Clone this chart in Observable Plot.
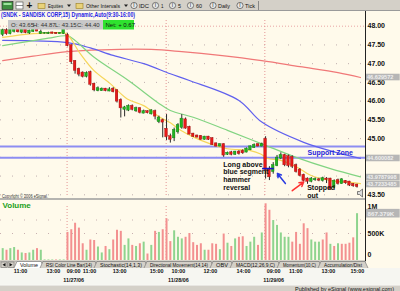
<!DOCTYPE html>
<html><head><meta charset="utf-8">
<script src="https://cdn.jsdelivr.net/npm/d3@7"></script>
<script src="https://cdn.jsdelivr.net/npm/@observablehq/plot@0.6"></script>
<style>
html,body{margin:0;padding:0;background:#fffaeb;}
#wrap{position:relative;width:400px;height:291px;overflow:hidden;background:#fffaeb;font-family:"Liberation Sans",Arial,sans-serif;}
</style></head><body><div id="wrap"></div>
<script>
// ---------- DATA ----------
// 15-minute bars: 11/24 (17 bars), 11/27 (26), 11/28 (26), 11/29 (25)
const barOpen = [
47.78,47.88,47.80,47.86,47.95,47.84,47.90,47.82,47.86,47.95,47.80,47.81,47.80,47.82,47.81,47.80,47.80,
47.75,47.48,47.06,46.85,46.75,46.66,46.76,46.45,46.28,46.28,46.32,46.27,46.32,46.28,46.02,45.78,45.76,45.86,45.74,45.80,45.68,45.72,45.66,45.72,45.45,45.48,
45.25,45.05,45.02,45.18,45.30,45.50,45.30,45.12,45.07,45.06,44.98,45.04,45.00,44.86,44.80,44.84,44.58,44.62,44.58,44.64,44.66,44.64,44.70,44.76,44.84,44.80,
44.98,44.16,44.12,44.28,44.48,44.55,44.52,44.50,44.28,44.16,44.02,43.92,43.86,43.90,43.90,43.88,43.92,43.92,43.70,43.88,43.80,43.86,43.84,43.78,43.76];
const barHigh = [
47.92,47.93,47.95,47.98,47.98,47.93,47.93,47.90,47.96,48.02,47.90,47.83,47.84,47.84,47.83,47.83,47.99,
47.80,47.50,47.08,46.88,46.78,46.78,46.80,46.48,46.38,46.35,46.34,46.36,46.36,46.30,46.06,45.86,45.90,45.90,45.84,45.82,45.76,45.74,45.77,45.76,45.60,45.52,
45.64,45.12,45.28,45.40,45.64,45.55,45.33,45.14,45.09,45.08,45.06,45.06,45.02,44.88,44.86,44.86,44.64,44.66,44.66,44.68,44.70,44.75,44.80,44.86,44.86,44.88,
45.05,44.25,44.36,44.55,44.62,44.58,44.56,44.54,44.32,44.20,44.05,43.95,43.96,43.95,43.94,43.97,43.96,43.94,43.90,43.92,43.93,43.88,43.86,43.80,43.78];
const barLow = [
47.72,47.76,47.77,47.82,47.82,47.80,47.80,47.78,47.83,47.85,47.78,47.79,47.78,47.79,47.78,47.79,47.78,
47.45,46.98,46.72,46.65,46.62,46.62,46.40,46.25,46.25,46.26,46.25,46.25,46.22,45.95,45.55,45.58,45.72,45.74,45.70,45.66,45.66,45.66,45.63,45.50,45.40,45.02,
44.95,44.88,44.92,45.12,45.25,45.25,45.10,45.03,45.02,44.96,44.96,44.95,44.82,44.78,44.78,44.50,44.55,44.54,44.55,44.56,44.58,44.62,44.68,44.74,44.78,44.78,
43.92,43.88,44.05,44.25,44.44,44.25,44.22,44.20,44.08,43.98,43.84,43.78,43.82,43.86,43.85,43.84,43.80,43.62,43.66,43.76,43.78,43.78,43.72,43.70,43.68];
const barClose = [
47.88,47.80,47.90,47.95,47.85,47.90,47.83,47.87,47.92,47.87,47.84,47.81,47.81,47.81,47.80,47.81,47.95,
47.48,47.05,46.82,46.72,46.66,46.74,46.45,46.30,46.33,46.32,46.28,46.30,46.25,46.00,45.82,45.82,45.86,45.78,45.80,45.70,45.72,45.69,45.74,45.60,45.55,45.44,
45.05,44.98,45.22,45.35,45.52,45.28,45.12,45.06,45.04,44.98,45.04,44.98,44.84,44.80,44.84,44.56,44.61,44.58,44.64,44.60,44.62,44.72,44.78,44.82,44.80,44.84,
44.17,43.98,44.28,44.48,44.55,44.30,44.28,44.26,44.12,44.02,43.88,43.86,43.92,43.91,43.89,43.93,43.91,43.66,43.86,43.80,43.90,43.82,43.76,43.74,43.72];
// volume in millions of shares
const barVolume = [
0.22,0.19,0.22,0.24,0.19,0.14,0.13,0.14,0.19,0.22,0.19,0.01,0.01,0.01,0.01,0.01,0.01,
0.52,0.57,0.69,0.60,0.31,0.19,0.38,0.37,0.25,0.14,0.26,0.20,0.38,0.56,0.54,0.28,0.40,0.28,0.26,0.31,0.34,0.12,0.28,0.54,0.52,0.57,
0.77,0.35,0.55,0.43,0.40,0.43,0.50,0.33,0.28,0.31,0.19,0.19,0.31,0.30,0.20,0.49,0.32,0.26,0.40,0.43,0.44,0.26,0.34,0.43,0.28,0.51,
1.05,0.93,0.74,0.65,0.51,0.43,0.43,0.34,0.52,0.30,0.68,0.59,0.38,0.34,0.34,0.38,0.51,0.30,0.26,0.31,0.30,0.30,0.32,0.42,0.867];
// volume bar colour: 1 = green (up), 0 = red (down)
const volumeUp = [
1,0,1,1,0,1,0,1,1,0,1,1,1,1,0,1,1,
0,0,0,0,0,1,0,0,1,1,0,1,0,0,0,1,1,0,1,0,1,0,1,0,1,0,
0,0,1,1,1,0,0,0,0,0,1,0,0,0,1,0,1,0,1,0,0,1,1,1,0,1,
0,0,1,1,1,1,1,0,0,0,0,0,1,1,1,0,0,1,0,1,0,0,0,0,1];

// moving averages, read as [bar, price] points
const maYellow = [[0,47.70],[8,47.80],[16,47.82],[17,47.78],[20.4,47.26],[23.9,46.82],[28.3,46.46],[32.7,46.06],[37,45.88],[41.4,45.56],[44,45.42],[46.7,45.22],[50.1,45.04],[54.5,44.86],[58.9,44.73],[65,44.68],[67.7,44.59],[69.5,44.47],[73,44.42],[77.4,44.23],[80.8,44.02],[86,43.88],[91.3,43.83],[93.9,43.80]];
const maGreen  = [[0,47.48],[6,47.58],[12,47.68],[17,47.74],[19,47.62],[24,47.17],[33,46.55],[41,45.94],[44,45.75],[50,45.57],[59,45.22],[68,44.86],[77,44.50],[86,44.20],[93.9,43.98]];
const maBlue   = [[0,47.62],[17,47.56],[23,47.42],[29,47.22],[37,47.00],[44,46.73],[49,46.55],[62,46.02],[68,45.44],[79,44.90],[88,44.62],[93.9,44.47]];
const maRed    = [[0,47.08],[8,47.20],[17,47.32],[26,47.37],[39,47.38],[47,47.32],[57,47.22],[68,47.08],[78,46.92],[88,46.76],[93.9,46.63]];

// visible price-axis labels (44.50 and 44.00 are hidden behind value boxes in the reference)
const priceTicks = [48,47.5,47,46.5,46,45.5,45,43.5];
const priceGrid = [47.5,47,46.5,46,45.5,45,44.5,44,43.5];
const valueBoxPrices = [46.63,44.47,43.96,43.775];
const valueBoxLabels = ["46.629572","44.600082","43.9787998","43.7233485"];
const supportLevels = [44.79,44.49];
const daySeparators = [16.9,42.9,68.8];

const timeTickPos = [4.67,13.3,18.6,22.8,30.7,40.4,46.1,54.5,63.2,71.1,76.9,85.5,93.1];
const timeTickLabels = ["11:00","13:00","09:00","11:00","13:00","15:00","10:00","12:00","14:00","09:00","11:00","13:00","15:00"];
const dateTickPos = [18.6,46.1,71.1];
const dateTickLabels = ["11/27/06","11/28/06","11/29/06"];

const volTickVals = [1,0.5,0.11];
const volTickLabels = ["1M","500K","0"];
const volGrid = [0.75,0.5];
const lastVolLabel = "867.379K";

const noteLines = ["Long above","blue segment","hammer","reversal"];
const noteY = [44.30,44.11,43.91,43.70];
const noteX = 57.9;
const stopLines = ["Stopped","out"];
const stopY = [43.69,43.48];
const stopX = 79.9;
const zoneLabel = "Support Zone";
const hammerSegment = {x1:68.2,x2:71.3,y:44.20};
const blueArrow = {x1:74.2,y1:43.80,x2:72.1,y2:44.07};
const redArrow = {x1:76.0,y1:43.61,x2:79.0,y2:43.84};

// ---------- BUILD ----------
const candles = barOpen.map((o,i)=>({i,o,h:barHigh[i],l:barLow[i],c:barClose[i]}));
const vols = barVolume.map((v,i)=>({i,v,up:volumeUp[i]===1}));
const XD = [-0.577,95.22];
const FONT = "Liberation Sans, Arial, sans-serif";
const wrap = document.getElementById("wrap");

const back = `<svg xmlns="http://www.w3.org/2000/svg" width="400" height="291" style="position:absolute;left:0;top:0">
<rect x="0" y="268" width="400" height="17" fill="#f6f6f1"/></svg>`;
wrap.insertAdjacentHTML("beforeend", back);

const price = Plot.plot({
  width:400, height:188, marginLeft:0, marginRight:35, marginTop:9, marginBottom:2,
  x:{domain:XD, axis:null}, y:{domain:[43.428,48.152], axis:null},
  style:{background:"transparent", overflow:"visible", fontFamily:FONT},
  marks:[
    Plot.ruleY(priceGrid,{stroke:"#bfaeae",strokeDasharray:"1,11"}),
    Plot.ruleY([48],{stroke:"#e8a4a4",strokeDasharray:"1,2"}),
    Plot.ruleX(daySeparators,{stroke:"#e49494",strokeDasharray:"1,2"}),
    Plot.ruleY(supportLevels,{stroke:"#8d8df2",strokeWidth:2}),
    Plot.line(maRed,{x:d=>d[0],y:d=>d[1],stroke:"#f07878",strokeWidth:1.2,curve:"catmull-rom"}),
    Plot.line(maBlue,{x:d=>d[0],y:d=>d[1],stroke:"#6060ee",strokeWidth:1.2,curve:"catmull-rom"}),
    Plot.line(maGreen,{x:d=>d[0],y:d=>d[1],stroke:"#82d482",strokeWidth:1.2,curve:"catmull-rom"}),
    Plot.line(maYellow,{x:d=>d[0],y:d=>d[1],stroke:"#f6d65a",strokeWidth:1.2,curve:"catmull-rom"}),
    Plot.ruleX(candles,{x:"i",y1:"l",y2:"h",stroke:"#2a2a2a",strokeWidth:1}),
    Plot.rect(candles.filter(d=>d.c>=d.o),{x1:d=>d.i-0.34,x2:d=>d.i+0.34,y1:"o",y2:"c",fill:"#22b522",stroke:"#117711",strokeWidth:0.4,insetTop:-0.5,insetBottom:-0.5}),
    Plot.rect(candles.filter(d=>d.c<d.o),{x1:d=>d.i-0.34,x2:d=>d.i+0.34,y1:"o",y2:"c",fill:"#e81818",stroke:"#991111",strokeWidth:0.4,insetTop:-0.5,insetBottom:-0.5}),
    Plot.ruleY([hammerSegment],{x1:"x1",x2:"x2",y:"y",stroke:"#1515c8",strokeWidth:1.6}),
    Plot.arrow([blueArrow],{x1:"x1",y1:"y1",x2:"x2",y2:"y2",stroke:"#2a3ae0",strokeWidth:1.5,headLength:6}),
    Plot.arrow([redArrow],{x1:"x1",y1:"y1",x2:"x2",y2:"y2",stroke:"#ff3030",strokeWidth:1.5,headLength:6}),
    Plot.text(noteLines,{x:()=>noteX,y:(d,i)=>noteY[i],text:d=>d,textAnchor:"start",lineAnchor:"middle",fontSize:7,fontWeight:"bold",fill:"#111"}),
    Plot.text(stopLines,{x:()=>stopX,y:(d,i)=>stopY[i],text:d=>d,textAnchor:"start",lineAnchor:"middle",fontSize:7,fontWeight:"bold",fill:"#111"}),
    Plot.text([zoneLabel],{x:()=>80.0,y:()=>44.63,text:d=>d,textAnchor:"start",lineAnchor:"middle",fontSize:7,fontWeight:"bold",fill:"#2424dc"}),
    Plot.text(priceTicks,{y:d=>d,text:d=>d.toFixed(2),frameAnchor:"right",dx:2,textAnchor:"start",lineAnchor:"middle",fontSize:7,fontWeight:"bold",fill:"#111"}),
    Plot.rect(valueBoxPrices,{x1:()=>XD[1]+0.26,x2:()=>XD[1]+9.1,y1:d=>d-0.088,y2:d=>d+0.088,fill:"#b6b6b6"}),
    Plot.text(valueBoxPrices,{y:d=>d,text:(d,i)=>valueBoxLabels[i],frameAnchor:"right",dx:1.5,textAnchor:"start",lineAnchor:"middle",fontSize:5.6,fontWeight:"bold",fill:"#eeeeee"})
  ]
});
price.style.position="absolute"; price.style.left="0px"; price.style.top="11px";
wrap.appendChild(price);

const volume = Plot.plot({
  width:400, height:86, marginLeft:0, marginRight:35, marginTop:7, marginBottom:25,
  x:{domain:XD, axis:null}, y:{domain:[0,1], axis:null},
  style:{background:"transparent", overflow:"visible", fontFamily:FONT},
  marks:[
    Plot.ruleY(volGrid,{stroke:"#c8b0b0",strokeDasharray:"1,11"}),
    Plot.ruleX(daySeparators,{stroke:"#e49494",strokeDasharray:"1,2"}),
    Plot.ruleX(vols.filter(d=>d.up),{x:"i",y1:0,y2:"v",stroke:"#8ed48e",strokeWidth:2}),
    Plot.ruleX(vols.filter(d=>!d.up),{x:"i",y1:0,y2:"v",stroke:"#f39090",strokeWidth:2}),
    Plot.text(["Volume"],{frameAnchor:"top-left",dx:2,dy:-1,textAnchor:"start",lineAnchor:"middle",fontSize:8,fontWeight:"bold",fill:"#22a022"}),
    Plot.text(volTickVals,{y:d=>d,text:(d,i)=>volTickLabels[i],frameAnchor:"right",dx:2,textAnchor:"start",lineAnchor:"middle",fontSize:7,fontWeight:"bold",fill:"#111"}),
    Plot.rect([0.867],{x1:()=>XD[1]+0.26,x2:()=>XD[1]+9.1,y1:d=>d-0.08,y2:d=>d+0.08,fill:"#b6b6b6"}),
    Plot.text([0.867],{y:d=>d,text:()=>lastVolLabel,frameAnchor:"right",dx:2,textAnchor:"start",lineAnchor:"middle",fontSize:6.2,fontWeight:"bold",fill:"#eeeeee"}),
    Plot.text(timeTickPos,{x:d=>d,text:(d,i)=>timeTickLabels[i],frameAnchor:"bottom",dy:11,lineAnchor:"middle",fontSize:5.4,fontWeight:"bold",fill:"#111"}),
    Plot.text(dateTickPos,{x:d=>d,text:(d,i)=>dateTickLabels[i],frameAnchor:"bottom",dy:19.5,lineAnchor:"middle",fontSize:5.4,fontWeight:"bold",fill:"#111"})
  ]
});
volume.style.position="absolute"; volume.style.left="0px"; volume.style.top="199px";
wrap.appendChild(volume);

// ---------- chrome (toolbar, title, tabs, status) ----------
const tabs = [["Volume",16,42,1],["RSI Color Line Bar(14)",42,96,0],["Stochastic(14,1,3)",96,146,0],["Directional Movement(14,14)",146,212,0],["OBV",212,232,0],["MACD(12,26,9,C)",232,279,0],["Momentum(10,C)",279,320,0],["Accumulation/Dist",320,366,0]];
let tabSvg = "";
tabs.forEach(([t,a,b,sel])=>{
  tabSvg += `<path d="M${a-2},268 L${a+1},261.5 L${b-1},261.5 L${b+2},268" fill="${sel?'#ffffff':'#d4d0c8'}" stroke="#6e6e6e" stroke-width="0.6"/>`;
  const tl = (b-a)-8;
  tabSvg += `<text x="${(a+b)/2}" y="266.6" font-size="5.2" text-anchor="middle" fill="#111" textLength="${tl}" lengthAdjust="spacingAndGlyphs">${t}</text>`;
});
const circ = (cx)=>`<circle cx="${cx}" cy="5.5" r="3.1" fill="#e8e8e8" stroke="#333" stroke-width="0.6"/><text x="${cx}" y="7.4" font-size="4.8" text-anchor="middle" fill="#111">I</text>`;
const tb = (x,t,w)=>`<text x="${x}" y="7.8" font-size="5.4" fill="#111" textLength="${w}" lengthAdjust="spacingAndGlyphs">${t}</text>`;
const front = `<svg xmlns="http://www.w3.org/2000/svg" width="400" height="291" style="position:absolute;left:0;top:0" font-family="${FONT}">
<rect x="0" y="0" width="400" height="11" fill="#d4d0c8"/>
<line x1="0" y1="10.5" x2="400" y2="10.5" stroke="#9a9a9a"/>
<rect x="2" y="1.5" width="11" height="8" fill="#3f8f3f" stroke="#222" stroke-width="0.6"/>
<rect x="3.5" y="3" width="8" height="2" fill="#9be29b"/>
<rect x="16" y="2" width="7" height="7" fill="#ffffff" stroke="#444" stroke-width="0.6"/>
<line x1="16" y1="5.5" x2="23" y2="5.5" stroke="#444" stroke-width="0.6"/>
<text x="26.5" y="9" font-size="10" font-weight="bold" fill="#111">+</text>
<rect x="38" y="3.5" width="7" height="5" fill="#e9d27a" stroke="#9a7d20" stroke-width="0.6"/>
${tb(48,"Equities",15)}
<path d="M67,4.5 L71,4.5 L69,7 Z" fill="#222"/>
<rect x="76" y="3.5" width="7" height="5" fill="#e9d27a" stroke="#9a7d20" stroke-width="0.6"/>
${tb(86,"Other Intervals",34)}
<path d="M124,4.5 L128,4.5 L126,7 Z" fill="#222"/>
${circ(134)}${tb(139,"IDC",10)}
${circ(155.5)}${tb(161,"1",2.5)}
${circ(172.5)}${tb(178,"5",3)}
${circ(190.5)}${tb(196,"60",6)}
${circ(213)}${tb(218,"Daily",12)}
${circ(240)}${tb(245,"Tick",10)}
<line x1="258.5" y1="1" x2="258.5" y2="10" stroke="#888"/>
<text x="1" y="17.2" font-size="8" font-weight="bold" fill="#1f1fe6" textLength="134" lengthAdjust="spacingAndGlyphs">(SNDK - SANDISK CORP,15) Dynamic,Auto(9:30-16:00)</text>
<rect x="8" y="20" width="95" height="9.5" fill="#c8c8c8"/>
<text x="11" y="27" font-size="6" fill="#333">O: 43.65</text>
<text x="33" y="27" font-size="6" fill="#333">H: 44.87</text>
<text x="55" y="27" font-size="6" fill="#333">L: 43.15</text>
<text x="77" y="27" font-size="6" fill="#333">C: 44.40</text>
<rect x="103" y="20" width="31" height="9.5" fill="#2fe22f"/>
<text x="105.5" y="27" font-size="6" fill="#111">Net: + 0.67</text>
<text x="2" y="197.6" font-size="4.5" fill="#333" textLength="46" lengthAdjust="spacingAndGlyphs">Copyright © 2006 eSignal.</text>
<path d="M357.5,191.5 h2 l3,-2.5 v8 l-3,-2.5 h-2 z" fill="#ddd" stroke="#333" stroke-width="0.6"/>
<line x1="0" y1="199" x2="365" y2="199" stroke="#9c9c9c" stroke-width="1.5"/>
<rect x="0" y="261" width="366" height="7" fill="#d4d0c8"/>
<line x1="0" y1="261" x2="366" y2="261" stroke="#7a7a7a" stroke-width="0.6"/>
<rect x="1" y="262" width="6" height="5.5" fill="#d4d0c8" stroke="#666" stroke-width="0.5"/>
<path d="M5.5,263 L2.5,264.75 L5.5,266.5 Z" fill="#111"/>
<rect x="8" y="262" width="6" height="5.5" fill="#d4d0c8" stroke="#666" stroke-width="0.5"/>
<path d="M9.5,263 L12.5,264.75 L9.5,266.5 Z" fill="#111"/>
${tabSvg}
<line x1="365.5" y1="11" x2="365.5" y2="261" stroke="#222" stroke-width="1"/>
<rect x="0" y="285" width="400" height="6" fill="#d4d0c8"/>
<line x1="0" y1="285.3" x2="400" y2="285.3" stroke="#ffffff" stroke-width="0.6"/>
<text x="394" y="290.6" font-size="5.5" text-anchor="end" fill="#111" textLength="99" lengthAdjust="spacingAndGlyphs">Published by eSignal (www.esignal.com)</text>
</svg>`;
wrap.insertAdjacentHTML("beforeend", front);
</script></body></html>
